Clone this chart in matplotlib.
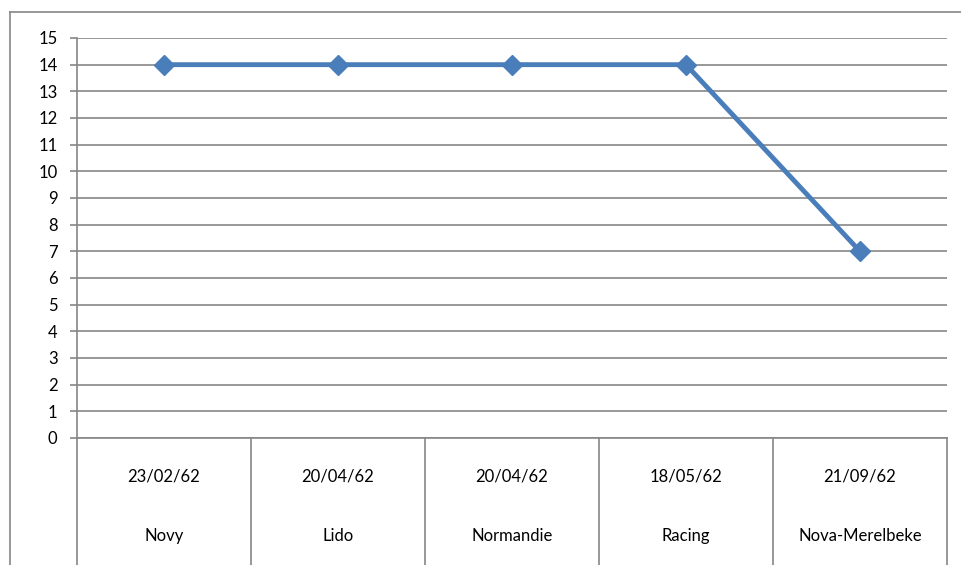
import matplotlib
matplotlib.use('Agg')
import matplotlib.pyplot as plt
from matplotlib.lines import Line2D
import matplotlib.transforms as mtransforms

dates = ['23/02/62', '20/04/62', '20/04/62', '18/05/62', '21/09/62']
venues = ['Novy', 'Lido', 'Normandie', 'Racing', 'Nova-Merelbeke']
values = [14, 14, 14, 14, 7]

W, H = 962, 565
grid_col = '#868686'
line_col = '#4a7ebb'

plt.rcParams['font.family'] = ['Lato', 'DejaVu Sans']

fig = plt.figure(figsize=(W / 100, H / 100), dpi=100)
ax = fig.add_axes([77 / W, (H - 438) / H, 870 / W, 400 / H])

x = list(range(len(values)))
ax.plot(x, values, color=line_col, lw=3.5, marker='D', markersize=10.5,
        markerfacecolor=line_col, markeredgecolor=line_col, zorder=3, clip_on=False)

ax.set_xlim(-0.5, len(values) - 0.5)
ax.set_ylim(0, 15)
ax.set_yticks(range(0, 16))
ax.yaxis.grid(True, color=grid_col, lw=1.2)
ax.set_axisbelow(True)
ax.tick_params(axis='y', length=5, width=1.2, color=grid_col, labelsize=12, pad=9)
ax.set_xticks([])
for s in ['top', 'right']:
    ax.spines[s].set_visible(False)
ax.spines['left'].set_color(grid_col)
ax.spines['left'].set_linewidth(1.2)
ax.spines['bottom'].set_color(grid_col)
ax.spines['bottom'].set_linewidth(1.2)

# multi-level category axis
trans = mtransforms.blended_transform_factory(ax.transData, ax.transAxes)
ybot = -(H - 438) / 400
for i in range(len(values) + 1):
    ax.add_line(Line2D([i - 0.5, i - 0.5], [0, ybot], transform=trans,
                       color=grid_col, lw=1.2, clip_on=False))
for i in x:
    ax.text(i, -38 / 400, dates[i], transform=trans, ha='center', va='center', fontsize=12)
    ax.text(i, -98 / 400, venues[i], transform=trans, ha='center', va='center', fontsize=12)

# outer chart frame
fig.add_artist(Line2D([10 / W, 1], [1 - 12 / H, 1 - 12 / H], transform=fig.transFigure,
                      color=grid_col, lw=1.2))
fig.add_artist(Line2D([10 / W, 10 / W], [0, 1 - 12 / H], transform=fig.transFigure,
                      color=grid_col, lw=1.2))

fig.savefig('out.png', dpi=100)
